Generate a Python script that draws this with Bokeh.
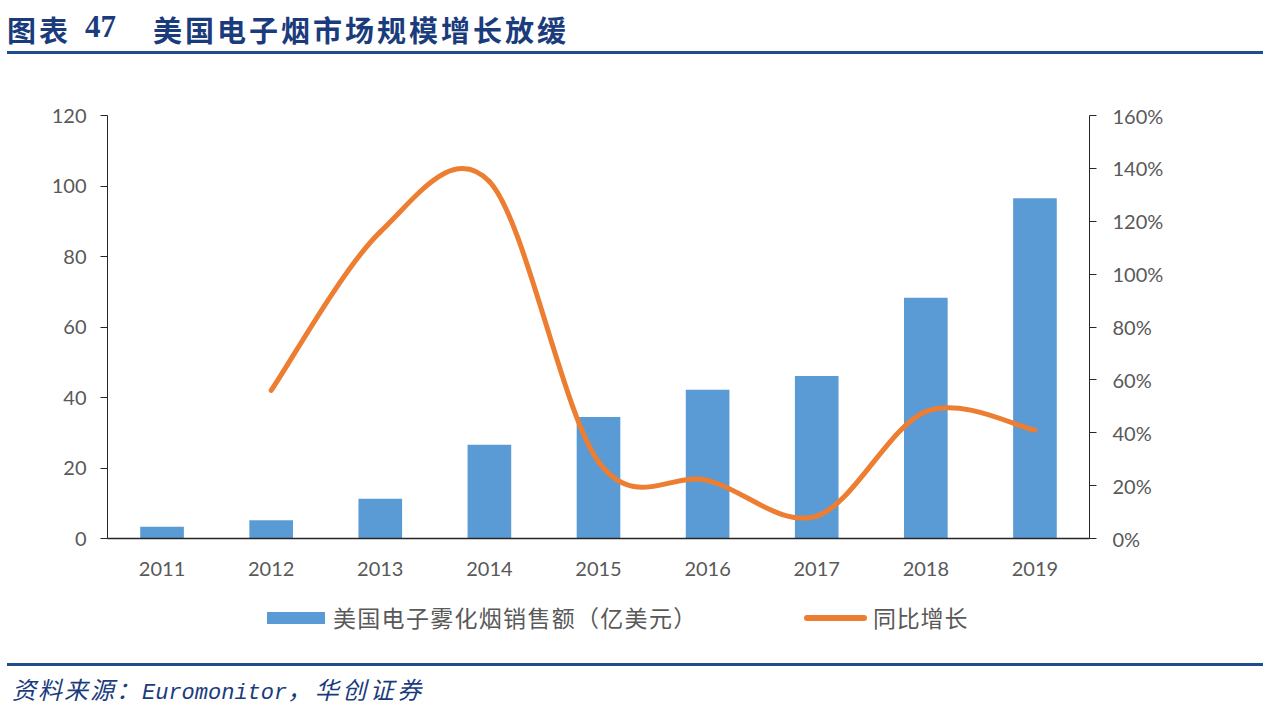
from bokeh.plotting import figure
from bokeh.layouts import column
from bokeh.models import LinearAxis, Range1d, FixedTicker, Div
from bokeh.embed import file_html
from bokeh.resources import INLINE

# ---- data ----
years = ["2011", "2012", "2013", "2014", "2015", "2016", "2017", "2018", "2019"]
sales = [3.3, 5.2, 11.3, 26.6, 34.5, 42.2, 46.1, 68.3, 96.5]          # 亿美元
growth = [None, 56, 116, 135, 29, 22, 8.5, 48, 41]                    # %
left_ticks = [0, 20, 40, 60, 80, 100, 120]
right_ticks = [0, 20, 40, 60, 80, 100, 120, 140, 160]
bar_name = "美国电子雾化烟销售额（亿美元）"
line_name = "同比增长"
title_a = "图表"
title_b = "47"
title_c = "美国电子烟市场规模增长放缓"
source_a = "资料来源："
source_b = "Euromonitor"
source_c = "，华创证券"

W = 1270
H_TOP, H_MAIN, H_BOT = 60, 540, 115
FL, FR = 107, 1089
FT, FB = 115 - H_TOP, 538 - H_TOP   # frame top/bottom inside main figure

BLUE = "#5B9BD5"
ORANGE = "#ED7D31"
GRAY = "#595959"
NAVY = "#1B3C7C"
RULE = "#1F4E8C"
AXC = "#262626"

# ---- title block ----
title_html = f"""
<div style="position:relative;width:{W}px;height:{H_TOP}px;overflow:hidden;">
  <span style="position:absolute;left:7px;top:15px;font-family:'Noto Sans CJK SC';font-weight:bold;
        font-size:29px;line-height:29px;letter-spacing:3px;color:{NAVY};white-space:nowrap;">{title_a}</span>
  <span style="position:absolute;left:85px;top:11px;font-family:'Liberation Serif';font-weight:bold;
        font-size:31px;line-height:31px;color:{NAVY};white-space:nowrap;">{title_b}</span>
  <span style="position:absolute;left:153px;top:15px;font-family:'Noto Sans CJK SC';font-weight:bold;
        font-size:29px;line-height:29px;letter-spacing:3px;color:{NAVY};white-space:nowrap;">{title_c}</span>
  <div style="position:absolute;left:7px;top:51px;width:1256px;height:3px;background:{RULE};"></div>
</div>
"""
top = Div(text=title_html, width=W, height=H_TOP, margin=(0, 0, 0, 0))

# ---- main chart ----
p = figure(width=W, height=H_MAIN, output_backend="svg", toolbar_location=None,
           x_range=Range1d(-0.5, len(years) - 0.5), y_range=Range1d(0, 120),
           min_border_left=FL, min_border_right=W - FR, min_border_top=FT,
           min_border_bottom=H_MAIN - FB, outline_line_color=None,
           background_fill_color="white", border_fill_color="white")
p.xgrid.visible = False
p.ygrid.visible = False
p.extra_y_ranges = {"pct": Range1d(0, 160)}

xs = list(range(len(years)))
p.vbar(x=xs, top=sales, width=0.4, fill_color=BLUE, line_color=None)

# smooth line through growth points (bezier segments, Catmull-Rom control points)
pts = [(i, g) for i, g in enumerate(growth) if g is not None]
x0s, y0s, x1s, y1s, cx0s, cy0s, cx1s, cy1s = [], [], [], [], [], [], [], []
for k in range(len(pts) - 1):
    pa = pts[k - 1] if k > 0 else pts[k]
    pb = pts[k]
    pc = pts[k + 1]
    pd = pts[k + 2] if k + 2 < len(pts) else pts[k + 1]
    x0s.append(pb[0]); y0s.append(pb[1])
    x1s.append(pc[0]); y1s.append(pc[1])
    cx0s.append(pb[0] + (pc[0] - pa[0]) / 6); cy0s.append(pb[1] + (pc[1] - pa[1]) / 6)
    cx1s.append(pc[0] - (pd[0] - pb[0]) / 6); cy1s.append(pc[1] - (pd[1] - pb[1]) / 6)
p.bezier(x0=x0s, y0=y0s, x1=x1s, y1=y1s, cx0=cx0s, cy0=cy0s, cx1=cx1s, cy1=cy1s,
         line_color=ORANGE, line_width=5, line_cap="round", y_range_name="pct")

xa = p.xaxis[0]
xa.ticker = FixedTicker(ticks=xs)
xa.major_label_overrides = {i: y for i, y in enumerate(years)}
xa.major_tick_line_color = None
xa.minor_tick_line_color = None
xa.axis_line_color = AXC
xa.axis_line_width = 1.3
xa.major_label_text_font = "Lato"
xa.major_label_text_font_size = "20px"
xa.major_label_text_color = GRAY
xa.major_label_standoff = 17

ya = p.yaxis[0]
ya.ticker = FixedTicker(ticks=left_ticks)
ya.major_tick_in = 0
ya.major_tick_out = 7
ya.minor_tick_line_color = None
ya.axis_line_color = AXC
ya.major_tick_line_color = AXC
ya.major_label_text_font = "Lato"
ya.major_label_text_font_size = "20px"
ya.major_label_text_color = GRAY
ya.major_label_standoff = 14

ra = LinearAxis(y_range_name="pct", ticker=FixedTicker(ticks=right_ticks))
ra.major_label_overrides = {v: f"{v}%" for v in right_ticks}
ra.major_tick_in = 0
ra.major_tick_out = 7
ra.minor_tick_line_color = None
ra.axis_line_color = AXC
ra.major_tick_line_color = AXC
ra.major_label_text_font = "Lato"
ra.major_label_text_font_size = "20px"
ra.major_label_text_color = GRAY
ra.major_label_standoff = 16
p.add_layout(ra, "right")

# ---- bottom block: legend, rule, source ----
bot_html = f"""
<div style="position:relative;width:{W}px;height:{H_BOT}px;overflow:hidden;">
  <div style="position:absolute;left:267px;top:12px;width:58px;height:12px;background:{BLUE};"></div>
  <span style="position:absolute;left:333px;top:6px;font-family:'Noto Sans CJK SC';font-size:23px;
        line-height:23px;letter-spacing:1.3px;color:{GRAY};white-space:nowrap;">{bar_name}</span>
  <div style="position:absolute;left:804px;top:15px;width:63px;height:6px;border-radius:3px;background:{ORANGE};"></div>
  <span style="position:absolute;left:873px;top:6px;font-family:'Noto Sans CJK SC';font-size:23px;
        line-height:23px;letter-spacing:0.8px;color:{GRAY};white-space:nowrap;">{line_name}</span>
  <div style="position:absolute;left:7px;top:63px;width:1256px;height:3px;background:{RULE};"></div>
  <div style="position:absolute;left:12px;top:77px;font-family:'Noto Sans CJK SC';font-style:italic;
        font-size:24px;line-height:24px;color:{NAVY};white-space:nowrap;"><span style="letter-spacing:2px;">{source_a}</span><span style="font-family:'Liberation Mono';font-size:22px;">{source_b}</span><span style="letter-spacing:3.5px;">{source_c}</span></div>
</div>
"""
bot = Div(text=bot_html, width=W, height=H_BOT, margin=(0, 0, 0, 0))

layout = column(top, p, bot, spacing=0)
open("out.html", "w").write(file_html(layout, INLINE))
